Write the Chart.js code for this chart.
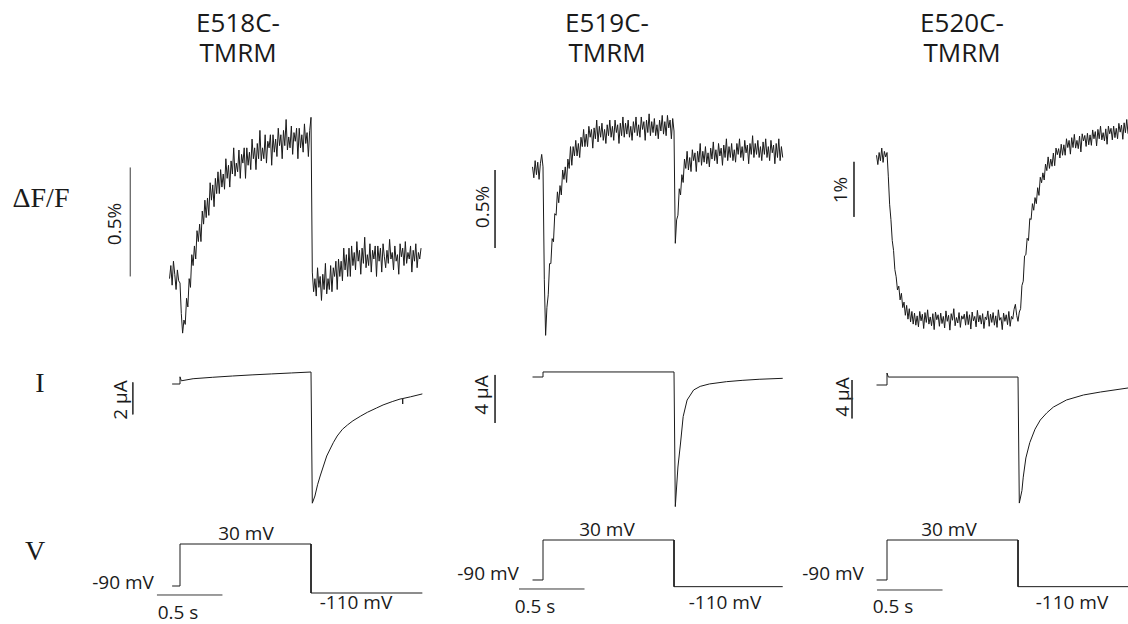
<!DOCTYPE html>
<html>
<head>
<meta charset="utf-8">
<script src="https://cdn.jsdelivr.net/npm/chart.js@4.4.0/dist/chart.umd.min.js"></script>
<style>
  html, body { margin: 0; padding: 0; background: #fff; }
  #fig { position: relative; width: 1128px; height: 624px; overflow: hidden; }
  #fig canvas { position: absolute; top: 0; }
  .t { position: absolute; white-space: nowrap; color: #1a1a1a; transform: translate(-50%, -50%);
       font-family: "Open Sans", sans-serif; font-size: 19px; line-height: 1; }
  .title { font-size: 26px; line-height: 30px; text-align: center; }
  .row { font-family: "Liberation Serif", serif; font-size: 28px; }
  .rot { transform: translate(-50%, -50%) rotate(-90deg); }
</style>
</head>
<body>
<div id="fig">
  <div class="t title" style="left:238px; top:37px;">E518C-<br>TMRM</div>
  <div class="t title" style="left:607px; top:37px;">E519C-<br>TMRM</div>
  <div class="t title" style="left:962px; top:37px;">E520C-<br>TMRM</div>

  <div class="t row" style="left:41px; top:198px;">&Delta;F/F</div>
  <div class="t row" style="left:40px; top:383px;">I</div>
  <div class="t row" style="left:35px; top:551px;">V</div>

  <div class="t rot" style="left:114px; top:224px;">0.5%</div>
  <div class="t rot" style="left:482px; top:207px;">0.5%</div>
  <div class="t rot" style="left:840px; top:190px;">1%</div>
  <div class="t rot" style="left:120px; top:400px;">2 &micro;A</div>
  <div class="t rot" style="left:481px; top:395px;">4 &micro;A</div>
  <div class="t rot" style="left:842px; top:397px;">4 &micro;A</div>

  <div class="t" style="left:246px; top:533px;">30 mV</div>
  <div class="t" style="left:123px; top:582px;">-90 mV</div>
  <div class="t" style="left:178px; top:612px;">0.5 s</div>
  <div class="t" style="left:356px; top:602px;">-110 mV</div>

  <div class="t" style="left:607px; top:529px;">30 mV</div>
  <div class="t" style="left:488px; top:573px;">-90 mV</div>
  <div class="t" style="left:535px; top:606px;">0.5 s</div>
  <div class="t" style="left:725px; top:602px;">-110 mV</div>

  <div class="t" style="left:949px; top:529px;">30 mV</div>
  <div class="t" style="left:833px; top:573px;">-90 mV</div>
  <div class="t" style="left:893px; top:606px;">0.5 s</div>
  <div class="t" style="left:1072px; top:602px;">-110 mV</div>
</div>
<script>
// fluorescence traces (dF/F in %), one sample every 10 ms starting at -80 ms
const F_START = -0.08;
const F_STEP = 0.01;
const fluo518 = [
  0.02, 0.08, -0.01, 0.10, 0.04, -0.03, 0.06, 0.01, 0.00, -0.14,
  -0.23, -0.17, -0.19, -0.07, -0.11, 0.02, -0.02, 0.13, 0.08, 0.17,
  0.11, 0.24, 0.19, 0.27, 0.19, 0.33, 0.27, 0.38, 0.30, 0.39,
  0.31, 0.46, 0.38, 0.45, 0.35, 0.48, 0.41, 0.51, 0.41, 0.52,
  0.44, 0.50, 0.43, 0.57, 0.48, 0.54, 0.44, 0.56, 0.50, 0.62,
  0.49, 0.55, 0.51, 0.61, 0.48, 0.59, 0.55, 0.62, 0.48, 0.62,
  0.54, 0.60, 0.52, 0.66, 0.57, 0.62, 0.52, 0.64, 0.57, 0.70,
  0.56, 0.62, 0.57, 0.68, 0.55, 0.65, 0.62, 0.68, 0.54, 0.68,
  0.60, 0.66, 0.58, 0.71, 0.63, 0.68, 0.57, 0.70, 0.63, 0.75,
  0.61, 0.67, 0.62, 0.72, 0.59, 0.69, 0.65, 0.71, 0.57, 0.71,
  0.62, 0.68, 0.60, 0.73, 0.64, 0.69, 0.58, 0.70, 0.76, 0.05,
  -0.04, 0.02, -0.06, 0.07, -0.02, 0.03, -0.08, 0.04, -0.03, 0.09,
  -0.05, 0.02, -0.03, 0.08, -0.04, 0.07, 0.03, 0.10, -0.03, 0.11,
  0.03, 0.10, 0.01, 0.16, 0.06, 0.13, 0.03, 0.16, 0.03, 0.17,
  0.08, 0.14, 0.06, 0.19, 0.10, 0.15, 0.04, 0.16, 0.09, 0.21,
  0.07, 0.13, 0.08, 0.18, 0.05, 0.15, 0.11, 0.17, 0.03, 0.17,
  0.10, 0.16, 0.05, 0.18, 0.12, 0.07, 0.15, 0.09, 0.20, 0.11,
  0.14, 0.06, 0.17, 0.10, 0.13, 0.04, 0.18, 0.12, 0.16, 0.08,
  0.19, 0.09, 0.14, 0.11, 0.17, 0.05, 0.15, 0.10, 0.18, 0.07,
  0.14, 0.11, 0.16];
const fluo519 = [
  0.02, -0.05, 0.06, -0.03, 0.05, -0.06, 0.04, 0.10, 0.02, -0.70,
  -1.06, -0.88, -0.80, -0.60, -0.60, -0.44, -0.46, -0.28, -0.29, -0.14,
  -0.21, -0.10, -0.16, 0.00, -0.06, 0.02, -0.08, 0.07, 0.01, 0.15,
  0.03, 0.15, 0.09, 0.19, 0.09, 0.17, 0.08, 0.21, 0.15, 0.26,
  0.15, 0.23, 0.15, 0.28, 0.21, 0.26, 0.14, 0.27, 0.20, 0.32,
  0.18, 0.28, 0.21, 0.30, 0.19, 0.26, 0.17, 0.29, 0.22, 0.32,
  0.21, 0.28, 0.19, 0.32, 0.24, 0.29, 0.17, 0.30, 0.22, 0.34,
  0.21, 0.30, 0.23, 0.32, 0.21, 0.28, 0.19, 0.31, 0.24, 0.34,
  0.22, 0.29, 0.21, 0.34, 0.26, 0.31, 0.19, 0.32, 0.24, 0.36,
  0.22, 0.31, 0.24, 0.33, 0.22, 0.29, 0.20, 0.32, 0.25, 0.35,
  0.23, 0.31, 0.22, 0.35, 0.27, 0.32, 0.20, 0.33, 0.25, -0.47,
  -0.32, -0.29, -0.12, -0.16, -0.03, -0.08, 0.07, 0.01, 0.12, 0.00,
  0.08, -0.01, 0.13, 0.06, 0.11, -0.01, 0.12, 0.05, 0.17, 0.03,
  0.12, 0.05, 0.15, 0.04, 0.11, 0.02, 0.14, 0.07, 0.18, 0.06,
  0.13, 0.04, 0.17, 0.09, 0.14, 0.03, 0.16, 0.08, 0.20, 0.06,
  0.15, 0.08, 0.17, 0.06, 0.13, 0.05, 0.17, 0.10, 0.20, 0.08,
  0.15, 0.06, 0.19, 0.11, 0.16, 0.04, 0.17, 0.10, 0.22, 0.08,
  0.17, 0.10, 0.19, 0.08, 0.15, 0.06, 0.18, 0.10, 0.20, 0.08,
  0.15, 0.06, 0.19, 0.11, 0.16, 0.04, 0.17, 0.08, 0.20, 0.06,
  0.15, 0.08];
const fluo520 = [
  0.05, -0.12, 0.10, -0.05, 0.18, -0.08, 0.12, 0.02, 0.10, -0.33,
  -0.84, -1.12, -1.50, -1.68, -2.03, -2.16, -2.40, -2.33, -2.58, -2.46,
  -2.72, -2.62, -2.86, -2.68, -2.93, -2.74, -2.98, -2.79, -3.02, -2.82,
  -3.04, -2.87, -3.07, -2.79, -2.96, -2.84, -3.10, -2.81, -2.99, -2.76,
  -3.02, -2.89, -3.05, -2.83, -3.12, -2.80, -2.94, -2.85, -3.06, -2.82,
  -3.01, -2.88, -3.09, -2.78, -2.97, -2.86, -3.13, -2.83, -2.95, -2.74,
  -3.05, -2.90, -3.00, -2.81, -3.08, -2.87, -2.93, -2.84, -3.04, -2.79,
  -3.03, -2.85, -3.11, -2.80, -2.96, -2.88, -3.07, -2.77, -2.98, -2.86,
  -3.02, -2.83, -3.10, -2.89, -2.94, -2.78, -3.06, -2.84, -2.99, -2.81,
  -3.04, -2.87, -3.08, -2.76, -2.95, -2.90, -3.12, -2.82, -2.97, -2.85,
  -3.03, -2.79, -3.06, -2.88, -2.93, -2.75, -2.66, -2.86, -2.97, -2.80,
  -2.74, -2.32, -2.24, -1.78, -1.76, -1.46, -1.50, -1.10, -1.12, -0.83,
  -0.95, -0.72, -0.83, -0.54, -0.68, -0.35, -0.45, -0.27, -0.40, -0.11,
  -0.23, 0.02, -0.19, -0.02, -0.15, 0.09, -0.14, 0.18, 0.06, 0.17,
  0.00, 0.25, 0.05, 0.24, 0.05, 0.35, 0.19, 0.32, 0.07, 0.37,
  0.19, 0.43, 0.18, 0.32, 0.17, 0.40, 0.11, 0.44, 0.31, 0.41,
  0.21, 0.45, 0.24, 0.42, 0.23, 0.51, 0.35, 0.48, 0.22, 0.52,
  0.35, 0.58, 0.33, 0.46, 0.31, 0.53, 0.25, 0.58, 0.44, 0.54,
  0.33, 0.58, 0.37, 0.54, 0.35, 0.63, 0.47, 0.60, 0.34, 0.64,
  0.46, 0.70, 0.44];

// currents (uA)
const cur518T = [-0.06, 0, 0, 0.01, 0.1, 0.25, 0.4, 0.55, 0.7, 0.85, 1.0, 1.01, 1.03, 1.05, 1.07, 1.1, 1.12, 1.15,
  1.17, 1.2, 1.24, 1.28, 1.32, 1.38, 1.43, 1.5, 1.55, 1.62, 1.68, 1.70, 1.70, 1.70, 1.76, 1.85];
const cur518 = [0, 0, 0.45, 0.2, 0.33, 0.42, 0.5, 0.57, 0.63, 0.69, 0.75, -7.45, -7.0, -6.3, -5.75, -5.0, -4.5, -4.0,
  -3.67, -3.25, -2.83, -2.55, -2.3, -2.0, -1.77, -1.5, -1.31, -1.1, -0.94, -0.91, -1.25, -0.91, -0.8, -0.62];
const cur519T = [-0.08, 0, 0, 1.0, 1.01, 1.03, 1.05, 1.07, 1.1, 1.15, 1.2, 1.27, 1.4, 1.52, 1.65, 1.83];
const cur519 = [0, 0, 0.42, 0.42, -10.8, -7.5, -5.5, -3.3, -1.92, -1.08, -0.78, -0.58, -0.39, -0.28, -0.19, -0.11];
const cur520T = [-0.08, 0, 0, 0.01, 1.0, 1.01, 1.03, 1.04, 1.06, 1.09, 1.13, 1.17, 1.22, 1.27, 1.37, 1.5, 1.63, 1.84];
const cur520 = [0, 0, 1.25, 0.83, 0.83, -12.3, -11.0, -9.6, -7.6, -6.0, -4.6, -3.65, -2.9, -2.3, -1.56, -1.04, -0.73, -0.31];

// voltage protocol (mV): -90 -> 30 for 1 s -> -110
const voltLevels = [-90, -90, 30, 30, -110, -110];
const volt518T = [-0.06, 0, 0, 1.0, 1.0, 1.85];
const volt519T = [-0.08, 0, 0, 1.0, 1.0, 1.83];
const volt520T = [-0.08, 0, 0, 1.0, 1.0, 1.84];

// scale bars: [time, from, to] for F and I, [value, t from, t to] for the 0.5 s bar
const barF = [[-0.38, 0.03, 0.53], [-0.366, 0, -0.5], [-0.252, -0.07, -1.07]];
const barI = [[-0.36, 0.1, -1.9], [-0.366, 0.17, -3.83], [-0.267, 0.52, -3.48]];
const barT = [[-115.7, -0.176, 0.324], [-117, -0.183, 0.317], [-120, -0.076, 0.424]];

// page layout of each column (pixels)
const PX_PER_S = 131;
const H = 624;
const cols = [
  { x0: 180, left: 95,  width: 345, fZero: 283, fK: 218, iZero: 384, iK: 16,  vZero: 554.5, vK: 0.35 },
  { x0: 543, left: 445, width: 345, fZero: 170, fK: 156, iZero: 377, iK: 12,  vZero: 550, vK: 0.3333 },
  { x0: 887, left: 795, width: 333, fZero: 158, fK: 55,  iZero: 385, iK: 9.6, vZero: 550, vK: 0.3333 }
];

const fig = document.getElementById('fig');
const ink = '#1a1a1a';
const barInk = '#3a3a3a';

function pairs(xs, ys) {
  return xs.map((x, i) => ({ x: x, y: ys[i] }));
}

function trace(data, axis, color) {
  return {
    data: data, yAxisID: axis, borderColor: color || ink, borderWidth: 1,
    borderJoinStyle: 'round', pointRadius: 0, tension: 0, fill: false
  };
}

function makeColumn(c, fluo, curT, cur, voltT, k) {
  const canvas = document.createElement('canvas');
  canvas.width = c.width;
  canvas.height = H;
  canvas.style.left = c.left + 'px';
  canvas.style.width = c.width + 'px';
  canvas.style.height = H + 'px';
  fig.appendChild(canvas);

  const fData = fluo.map((v, i) => ({ x: F_START + i * F_STEP, y: v }));

  new Chart(canvas, {
    type: 'line',
    data: {
      datasets: [
        trace(fData, 'yF'),
        trace(pairs(curT, cur), 'yI'),
        trace(pairs(voltT, voltLevels), 'yV'),
        trace([{ x: barF[k][0], y: barF[k][1] }, { x: barF[k][0], y: barF[k][2] }], 'yF', barInk),
        trace([{ x: barI[k][0], y: barI[k][1] }, { x: barI[k][0], y: barI[k][2] }], 'yI', barInk),
        trace([{ x: barT[k][1], y: barT[k][0] }, { x: barT[k][2], y: barT[k][0] }], 'yV', barInk)
      ]
    },
    options: {
      responsive: false,
      animation: false,
      events: [],
      layout: { padding: 0 },
      plugins: { legend: { display: false }, tooltip: { enabled: false } },
      scales: {
        x: { type: 'linear', display: false, bounds: 'data',
             min: (c.left - c.x0) / PX_PER_S, max: (c.left + c.width - c.x0) / PX_PER_S },
        yF: { type: 'linear', display: false, bounds: 'data', min: (c.fZero - H) / c.fK, max: c.fZero / c.fK },
        yI: { type: 'linear', display: false, bounds: 'data', min: (c.iZero - H) / c.iK, max: c.iZero / c.iK },
        yV: { type: 'linear', display: false, bounds: 'data', min: (c.vZero - H) / c.vK, max: c.vZero / c.vK }
      }
    }
  });
}

makeColumn(cols[0], fluo518, cur518T, cur518, volt518T, 0);
makeColumn(cols[1], fluo519, cur519T, cur519, volt519T, 1);
makeColumn(cols[2], fluo520, cur520T, cur520, volt520T, 2);
</script>
</body>
</html>
